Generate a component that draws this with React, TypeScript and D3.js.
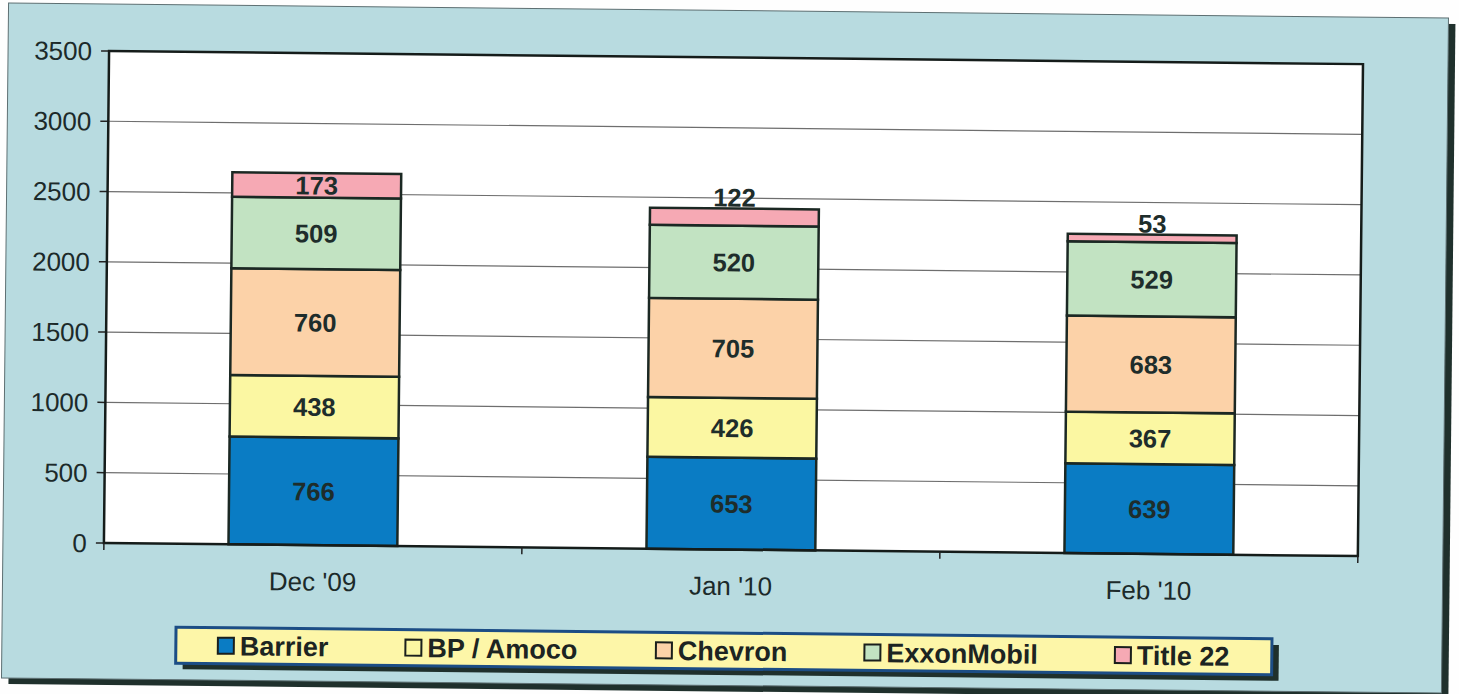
import React from "react";
import * as d3 from "d3";

const categories = ["Dec '09", "Jan '10", "Feb '10"];
const seriesNames = ["Barrier", "BP / Amoco", "Chevron", "ExxonMobil", "Title 22"];
const barrier = [766, 653, 639];
const bpAmoco = [438, 426, 367];
const chevron = [760, 705, 683];
const exxonMobil = [509, 520, 529];
const title22 = [173, 122, 53];
const yTicks = [0, 500, 1000, 1500, 2000, 2500, 3000, 3500];
const seriesColors = ["#0a7cc4", "#fbf7a2", "#fcd2a8", "#c2e3c2", "#f6a9b4"];

const W = 1459;
const H = 694;
const FONT = "'Liberation Sans', Arial, sans-serif";

const margin = { left: 106, right: 1360, top: 57.5, bottom: 549.5 };

function measure(text: string, font: string): number {
  if (typeof document === "undefined") return text.length * 14;
  const c = document.createElement("canvas");
  const ctx = c.getContext("2d");
  if (!ctx) return text.length * 14;
  ctx.font = font;
  return ctx.measureText(text).width;
}

export default function App() {
  const seriesValues = [barrier, bpAmoco, chevron, exxonMobil, title22];
  const rows = categories.map((c, i) => {
    const r: any = { cat: c };
    seriesNames.forEach((s, k) => (r[s] = seriesValues[k][i]));
    return r;
  });
  const stacked = d3.stack<any>().keys(seriesNames)(rows);

  const x = d3
    .scaleBand<string>()
    .domain(categories)
    .range([margin.left, margin.right])
    .paddingInner(0.596)
    .paddingOuter(0.298);
  const y = d3.scaleLinear().domain([0, 3500]).range([margin.bottom, margin.top]);
  const step = x.step();

  // legend layout
  const legX = 179,
    legY = 633,
    legW = 1096,
    legH = 36;
  const legFontSize = 27;
  const legFont = `bold ${legFontSize}px "Liberation Sans"`;
  let cursor = legX + 42;
  const legendItems = seriesNames.map((name, i) => {
    const mx = cursor;
    const tw = measure(name, legFont);
    cursor = mx + 22 + tw + 77;
    return { name, mx, color: seriesColors[i] };
  });
  const legCy = legY + legH / 2;

  return (
    <svg
      width={W}
      height={H}
      style={{ position: "absolute", left: 0, top: 0, background: "#fefefe" }}
      fontFamily={FONT}
    >
      <g transform="rotate(0.6, 729, 347)">
        {/* panel shadow */}
        <rect x={12} y={16.5} width={1440} height={675} fill="#1f302c" />
        {/* panel */}
        <rect x={5} y={10.5} width={1440} height={675} fill="#b8dbe0" stroke="#5d6f72" strokeWidth={1} />

        {/* plot area */}
        <rect
          x={margin.left}
          y={margin.top}
          width={margin.right - margin.left}
          height={margin.bottom - margin.top}
          fill="#ffffff"
        />
        {yTicks.map((t) => (
          <g key={t}>
            {t > 0 && t < 3500 && (
              <line x1={margin.left} x2={margin.right} y1={y(t)} y2={y(t)} stroke="#6e6e6e" strokeWidth={1.2} />
            )}
            <line x1={margin.left - 8} x2={margin.left} y1={y(t)} y2={y(t)} stroke="#222" strokeWidth={1.5} />
            <text
              x={margin.left - 17}
              y={y(t)}
              dy="0.36em"
              textAnchor="end"
              fontSize={26}
              fill="#1c2a2a"
            >
              {t}
            </text>
          </g>
        ))}

        {/* bars */}
        {stacked.map((s, k) =>
          s.map((d, i) => {
            const cat = categories[i];
            const x0 = x(cat)!;
            const y0 = y(d[1]);
            const y1 = y(d[0]);
            return (
              <rect
                key={`${k}-${i}`}
                x={x0}
                y={y0}
                width={x.bandwidth()}
                height={y1 - y0}
                fill={seriesColors[k]}
                stroke="#1b2823"
                strokeWidth={2.5}
              />
            );
          })
        )}
        {/* data labels */}
        {stacked.map((s, k) =>
          s.map((d, i) => {
            const cat = categories[i];
            const cx = x(cat)! + x.bandwidth() / 2;
            const y0 = y(d[1]);
            const y1 = y(d[0]);
            const h = y1 - y0;
            const v = d[1] - d[0];
            const small = h < 20;
            return (
              <text
                key={`l-${k}-${i}`}
                x={cx}
                y={small ? y0 - 2 : (y0 + y1) / 2}
                dy={small ? 0 : "0.36em"}
                textAnchor="middle"
                fontSize={25.5}
                fontWeight="bold"
                fill="#1e2d2b"
              >
                {v}
              </text>
            );
          })
        )}

        {/* plot border */}
        <rect
          x={margin.left}
          y={margin.top}
          width={margin.right - margin.left}
          height={margin.bottom - margin.top}
          fill="none"
          stroke="#151c1a"
          strokeWidth={2.5}
        />
        {/* x ticks */}
        {[0, 1, 2, 3].map((j) => (
          <line
            key={j}
            x1={margin.left + j * step}
            x2={margin.left + j * step}
            y1={margin.bottom}
            y2={margin.bottom + 7}
            stroke="#222"
            strokeWidth={1.5}
          />
        ))}
        {categories.map((c) => (
          <text
            key={c}
            x={x(c)! + x.bandwidth() / 2}
            y={595}
            textAnchor="middle"
            fontSize={26}
            fill="#1c2a2a"
          >
            {c}
          </text>
        ))}

        {/* legend */}
        <rect x={legX + 7} y={legY + 6} width={legW} height={legH} fill="#1f302c" />
        <rect x={legX} y={legY} width={legW} height={legH} fill="#fdf6a8" stroke="#1c4d85" strokeWidth={3} />
        {legendItems.map((it) => (
          <g key={it.name}>
            <rect
              x={it.mx}
              y={legCy - 8}
              width={16}
              height={16}
              fill={it.color}
              stroke="#1a1f1c"
              strokeWidth={2}
            />
            <text x={it.mx + 22} y={legCy + 9.5} fontSize={legFontSize} fontWeight="bold" fill="#1c2422">
              {it.name}
            </text>
          </g>
        ))}
      </g>
    </svg>
  );
}
